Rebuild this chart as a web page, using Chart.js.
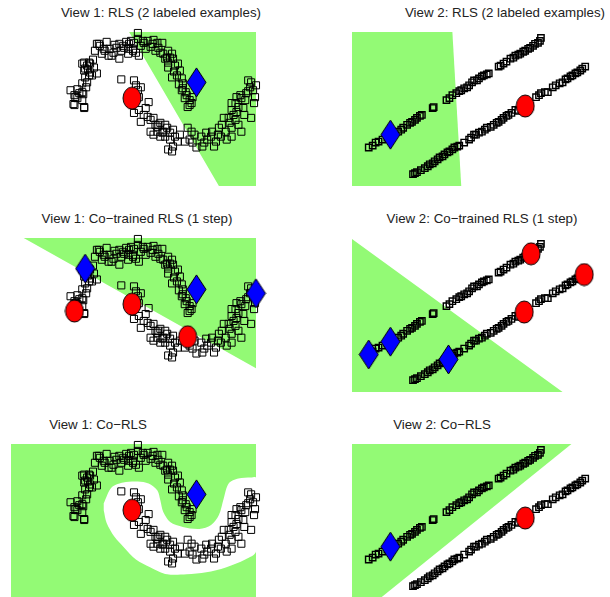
<!DOCTYPE html>
<html>
<head>
<meta charset="UTF-8" />
<title>Co-RLS views</title>
<script src="https://cdn.jsdelivr.net/npm/chart.js"></script>
<style>
  body {
    margin: 0;
    width: 610px;
    height: 597px;
    overflow: hidden;
    background: #fff;
    position: relative;
    font-family: "Liberation Sans", Arial, sans-serif;
  }
  .title {
    position: absolute;
    width: 300px;
    text-align: center;
    font-size: 13.3px;
    line-height: 16px;
    color: #222;
    white-space: nowrap;
  }
  canvas {
    position: absolute;
  }
</style>
</head>
<body>
<div class="title" style="left:11px;top:5px">View 1: RLS (2 labeled examples)</div>
<div class="title" style="left:355px;top:5px">View 2: RLS (2 labeled examples)</div>
<div class="title" style="left:-13px;top:211px">View 1: Co−trained RLS (1 step)</div>
<div class="title" style="left:332px;top:211px">View 2: Co−trained RLS (1 step)</div>
<div class="title" style="left:-52px;top:417px">View 1: Co−RLS</div>
<div class="title" style="left:292px;top:417px">View 2: Co−RLS</div>

<canvas id="c1" width="267" height="176" style="left:0;top:21px"></canvas>
<canvas id="c2" width="269" height="176" style="left:341px;top:21px"></canvas>
<canvas id="c3" width="267" height="176" style="left:0;top:227px"></canvas>
<canvas id="c4" width="269" height="176" style="left:341px;top:227px"></canvas>
<canvas id="c5" width="267" height="176" style="left:0;top:433px"></canvas>
<canvas id="c6" width="269" height="176" style="left:341px;top:433px"></canvas>

<script>
// ---- view 1 (two moons) ----
const upperMoon = [
  [61,97],[65,92],[64,83],[68,89],[73,87],[75,80],[74,93],[68,98],[66,90],[65,82],[75,79],[73,95],
  [73,104],[76,110],[75,117],[73,124],[78,122],[81,115],[83,112],[88,114],[80,125],[85,120],[75,125],
  [76,119],[81,124],[80,112],[78,105],[86,137],[88,144],[91,142],[93,134],[96,137],[101,139],[100,132],
  [105,135],[108,140],[111,144],[113,137],[111,129],[116,140],[120,134],[121,144],[125,139],[126,145],
  [128,135],[130,155],[130,149],[133,142],[135,147],[90,144],[95,139],[103,132],[115,142],[120,139],
  [125,137],[131,132],[123,147],[136,145],[140,147],[145,144],[148,137],[150,145],[151,140],[156,134],
  [158,129],[161,125],[165,134],[166,129],[168,122],[171,124],[173,117],[170,112],[165,110],[175,109],
  [176,104],[175,97],[180,92],[178,89],[183,87],[185,84],[181,80],[186,90],[153,135],[155,145],
  [161,137],[163,130],[161,120],[176,99],
  [98,146],[106,143],[118,146],[143,141],[138,139],[146,148],[160,130],[167,116],[172,103],[179,95],
  [183,82],[70,94],[77,100],[79,118],[84,128]
];
const lowerMoon = [
  [113,108],[126,107],[128,102],[130,97],[126,94],[131,90],[133,100],[141,85],[126,74],[131,77],
  [136,72],[140,70],[143,67],[146,69],[150,60],[153,64],[156,55],[160,59],[146,52],[150,55],[163,54],
  [166,57],[168,50],[163,47],[166,40],[165,35],[158,50],[153,50],[133,65],[151,62],[143,55],[155,54],
  [173,52],[181,59],[185,55],[183,47],[186,44],[190,39],[196,40],[195,50],[200,54],[206,55],[205,50],
  [210,45],[213,59],[216,62],[220,55],[223,69],[226,59],[230,67],[233,62],[236,55],[226,50],[221,47],
  [208,40],[178,45],[161,37],[158,62],[201,47],[218,69],[215,50],[226,77],[230,84],[233,80],[236,89],
  [240,87],[235,92],[241,94],[245,100],[248,97],[250,90],[246,105],[243,107],[251,102],[246,69],
  [231,75],[238,79],[226,84],[231,90],
  [138,79],[148,62],[171,45],[188,52],[198,44],[212,52],[224,64],[239,72],[243,96],[249,84],[228,72]
];

// ---- view 2 (two parallel lines) ----
const lineA = [
  [17,39],[21,41],[24,44],[27,45],[31,47],[36,49],[40,51],[47,55],[50,57],[52,59],[56,62],[59,64],
  [61,65],[64,67],[66,69],[69,71],[71,72],[82,79],[83,80],[96,87],[99,89],[102,92],[106,94],[109,96],
  [111,97],[114,99],[117,100],[119,102],[122,105],[124,107],[127,107],[129,109],[132,111],[134,112],
  [137,113],[139,114],[149,121],[151,122],[154,124],[157,126],[161,129],[164,130],[166,132],[169,133],
  [171,134],[174,136],[176,137],[179,139],[181,140],[184,142],[186,144],[189,145],[191,147],[192,150]
];
const lineB = [
  [62,12],[64,13],[66,14],[70,16],[74,18],[77,20],[79,22],[82,23],[84,25],[87,27],[89,29],[92,30],
  [94,32],[97,34],[99,35],[102,37],[104,39],[107,40],[109,41],[114,44],[119,47],[121,49],[124,52],
  [126,52],[129,54],[132,55],[135,57],[137,59],[141,60],[144,62],[147,64],[149,65],[152,67],[154,69],
  [157,71],[159,72],[162,74],[166,77],[169,76],[187,90],[190,92],[192,94],[196,95],[199,95],[204,100],
  [207,102],[211,104],[214,105],[217,108],[219,109],[222,111],[224,112],[227,114],[229,115],[232,117],
  [234,119],[237,121]
];

// ---- labeled examples ----
const v1Neg = [[124,89]];
const v1Pos = [[190,105]];
const v1CoNeg = [[65,82],[124,89],[181,56]];
const v1CoPos = [[76,125],[190,104],[251,100]];
const v2Neg = [[176,81]];
const v2Pos = [[39,52]];
const v2CoNeg = [[182,140],[236,119],[175,81]];
const v2CoPos = [[17,38],[39,51],[98,33]];

// ---- decision regions (positive class) ----
const region1 = [[121,156],[251,156],[251,0],[213,0]];
const region2 = [[0,156],[102,156],[111,0],[0,0]];
const region3 = [[13,156],[251,156],[251,24]];
const region4 = [[0,155],[0,0],[214,0]];
const region5 = [[0,0],[251,0],[251,156],[0,156]];
const region5Hole = [
  [95,96],[103,112],[115,117],[130,118],[141,116],[150,109],[153,99],[156,87],[163,77],[176,72],
  [193,70],[205,74],[213,84],[218,101],[223,116],[233,121],[246,122],[251,122],[251,47],[240,39],
  [220,31],[200,26],[180,24],[160,24],[143,31],[128,39],[116,51],[106,62],[98,76],[95,89]
];
const region6 = [[0,156],[223,156],[29,0],[0,0]];

const GREEN = "rgb(147,250,117)";

function xy(pairs) {
  return pairs.map(([x, y]) => ({ x: x, y: y }));
}

// red circle and blue diamond marker images
function makeCircle() {
  const c = document.createElement("canvas");
  c.width = 20;
  c.height = 24;
  const g = c.getContext("2d");
  g.beginPath();
  g.ellipse(10, 12, 9, 11, 0, 0, Math.PI * 2);
  g.fillStyle = "#ff0000";
  g.fill();
  g.lineWidth = 1;
  g.strokeStyle = "#000";
  g.stroke();
  return c;
}
function makeDiamond() {
  const c = document.createElement("canvas");
  c.width = 21;
  c.height = 31;
  const g = c.getContext("2d");
  g.beginPath();
  g.moveTo(10.5, 1);
  g.lineTo(20, 15.5);
  g.lineTo(10.5, 30);
  g.lineTo(1, 15.5);
  g.closePath();
  g.fillStyle = "#0000ff";
  g.fill();
  g.lineWidth = 1;
  g.strokeStyle = "#000";
  g.stroke();
  return c;
}
const circleImg = makeCircle();
const diamondImg = makeDiamond();

function regionSet(pts, color, order, tension) {
  return {
    data: xy(pts),
    showLine: true,
    fill: "shape",
    backgroundColor: color,
    borderWidth: 0,
    borderColor: "rgba(0,0,0,0)",
    pointRadius: 0,
    tension: tension || 0,
    order: order,
  };
}

function drawPanel(id, squares, size, lw, regions, neg, pos, left) {
  const datasets = [];
  regions.forEach((r) => datasets.push(r));
  squares.forEach((s) =>
    datasets.push({
      data: xy(s),
      pointStyle: "rect",
      pointRadius: size,
      backgroundColor: "rgba(0,0,0,0)",
      borderColor: "#000",
      borderWidth: lw,
      clip: false,
      order: 1,
    })
  );
  datasets.push({ data: xy(pos), pointStyle: diamondImg, pointRadius: 10, clip: false, order: 0 });
  datasets.push({ data: xy(neg), pointStyle: circleImg, pointRadius: 10, clip: false, order: 0 });

  new Chart(document.getElementById(id), {
    type: "scatter",
    data: { datasets: datasets },
    options: {
      responsive: false,
      animation: false,
      events: [],
      layout: { padding: { left: left ? 7 : 10, right: left ? 9 : 8, top: 10, bottom: 10 } },
      plugins: { legend: { display: false }, tooltip: { enabled: false } },
      scales: {
        x: { type: "linear", min: 0, max: 251, display: false },
        y: { type: "linear", min: 0, max: 156, display: false },
      },
    },
  });
}

const v1 = [upperMoon, lowerMoon];
const v2 = [lineA, lineB];

drawPanel("c1", v1, 5, 1, [regionSet(region1, GREEN, 3)], v1Neg, v1Pos, true);
drawPanel("c2", v2, 4.5, 1.4, [regionSet(region2, GREEN, 3)], v2Neg, v2Pos, false);
drawPanel("c3", v1, 5, 1, [regionSet(region3, GREEN, 3)], v1CoNeg, v1CoPos, true);
drawPanel("c4", v2, 4.5, 1.4, [regionSet(region4, GREEN, 3)], v2CoNeg, v2CoPos, false);
drawPanel("c5", v1, 5, 1, [regionSet(region5, GREEN, 3), regionSet(region5Hole, "#fff", 2, 0.3)], v1Neg, v1Pos, true);
drawPanel("c6", v2, 4.5, 1.4, [regionSet(region6, GREEN, 3)], v2Neg, v2Pos, false);
</script>
</body>
</html>
